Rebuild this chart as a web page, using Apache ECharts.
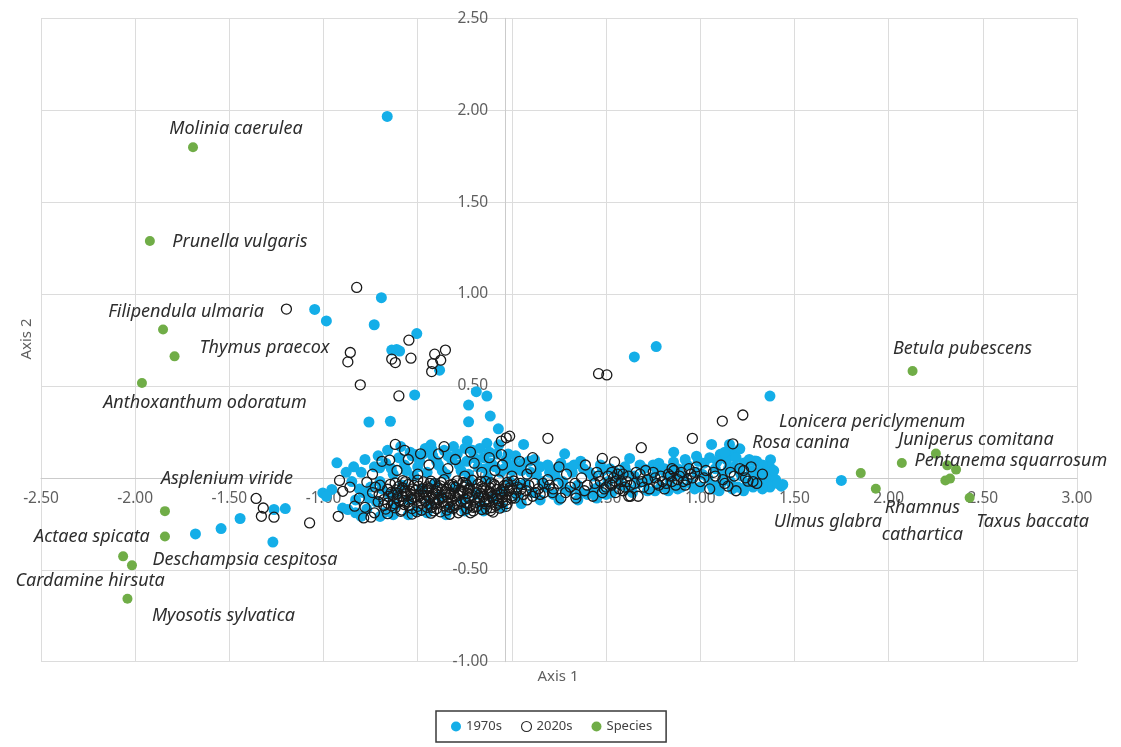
<!DOCTYPE html>
<html>
<head>
<meta charset="utf-8">
<script src="https://cdn.jsdelivr.net/npm/echarts@6/dist/echarts.min.js"></script>
<style>
  html, body { margin: 0; padding: 0; background: #ffffff; }
  #chart { width: 1121px; height: 747px; }
</style>
</head>
<body>
<div id="chart"></div>
<script>
// Axis ranges of the ordination plot
const xMin = -2.5, xMax = 3.0, xStep = 0.5;
const yMin = -1.0, yMax = 2.5, yStep = 0.5;
const seriesNames = ['1970s', '2020s', 'Species'];
const axisTitles = ['Axis 1', 'Axis 2'];

// Site scores, 1970s survey [axis 1, axis 2]
const sites1970s = [
  // sites lying above the main band
  [-0.662,1.966],[-1.047,0.916],[-0.985,0.854],[-0.693,0.980],[-0.731,0.833],[-0.505,0.785],
  [-0.638,0.695],[-0.612,0.699],[-0.596,0.690],[-0.384,0.586],[-0.516,0.451],[-0.759,0.304],
  [-0.645,0.308],[-0.189,0.469],[-0.133,0.445],[-0.230,0.396],[-0.230,0.305],[-0.115,0.336],
  [-0.072,0.267],[-0.133,0.188],[-0.237,0.200],[-0.237,0.164],[-0.425,0.155],[-0.929,0.082],
  [0.650,0.658],[0.766,0.714],[1.370,0.445],[0.062,0.182],[0.280,0.131],[0.365,0.091],
  [0.306,0.055],[0.625,0.106],[0.858,0.086],[1.060,0.182],[1.106,0.128],[1.155,0.182],
  [1.371,0.055],[-0.702,0.055],[-0.516,0.127],[0.980,0.118],[1.210,0.158],[1.290,0.092],
  [0.780,0.080],[0.880,0.050],[0.859,0.140],[1.164,0.146],[1.231,0.081],[1.373,0.099],
  // left tail
  [-1.680,-0.305],[-1.544,-0.276],[-1.443,-0.221],[-1.269,-0.349],[-1.263,-0.172],[-1.203,-0.167],
  [-1.004,-0.082],[-0.956,-0.063],[-0.899,-0.164],[-0.871,-0.172],[-0.985,-0.100],[-0.830,-0.190],
  [-0.800,-0.210],
  // right tail
  [1.430,-0.045],[1.749,-0.014],[1.438,-0.036],[1.345,-0.014],
  // main band
  [-0.85,-0.02],[-0.83,-0.12],[-0.80,0.03],[-0.79,-0.08],[-0.77,-0.17],[-0.75,-0.05],[-0.73,0.06],
  [-0.72,-0.13],[-0.70,-0.02],[-0.68,-0.19],[-0.67,0.08],[-0.65,-0.09],[-0.63,0.02],[-0.62,-0.15],
  [-0.60,0.11],[-0.58,-0.04],[-0.57,0.07],[-0.55,-0.12],[-0.54,0.14],[-0.52,0.01],[-0.51,-0.18],
  [-0.49,0.09],[-0.48,-0.06],[-0.46,0.16],[-0.45,0.03],[-0.44,-0.14],[-0.42,0.12],[-0.41,-0.03],
  [-0.39,0.07],[-0.38,-0.10],[-0.36,0.15],[-0.35,0.02],[-0.33,-0.17],[-0.32,0.10],[-0.30,-0.05],
  [-0.29,0.13],[-0.27,0.04],[-0.26,-0.12],[-0.24,0.09],[-0.22,-0.02],[-0.21,0.15],[-0.19,-0.09],
  [-0.18,0.06],[-0.16,-0.15],[-0.15,0.11],[-0.13,0.00],[-0.11,0.08],[-0.10,-0.11],[-0.08,0.13],
  [-0.06,0.03],[-0.05,-0.07],[-0.03,0.10],[-0.01,-0.02],[0.01,0.07],[0.03,-0.10],[0.05,0.04],
  [0.07,-0.03],[0.09,0.09],[0.11,-0.08],[0.13,0.02],[0.15,0.06],[0.18,-0.05],[0.20,0.03],
  [0.22,-0.09],[0.24,0.05],[0.27,-0.02],[0.30,-0.07],[0.32,0.03],[0.35,-0.04],[0.38,0.05],
  [0.40,-0.09],[0.43,0.01],[0.46,-0.05],[0.48,0.04],[0.51,-0.02],[0.53,-0.08],[0.55,0.03],
  [0.58,-0.04],[0.60,0.06],[0.62,-0.06],[0.65,0.01],[0.67,-0.03],[0.70,0.05],[0.72,-0.07],
  [0.74,0.00],[0.77,0.04],[0.79,-0.05],[0.82,0.02],[0.84,-0.02],[0.86,0.06],[0.88,-0.06],
  [0.91,0.01],[0.93,0.07],[0.95,-0.03],[0.98,0.03],[1.00,-0.05],[1.02,0.08],[1.04,0.00],
  [1.06,-0.04],[1.08,0.05],[1.10,-0.07],[1.12,0.02],[1.14,0.10],[1.16,-0.02],[1.18,0.06],
  [1.20,-0.05],[1.22,0.01],[1.24,0.08],[1.25,-0.03],[1.27,0.04],[1.29,-0.01],[1.31,0.03],
  [1.32,-0.04],[1.34,0.01],[1.36,-0.02],[1.38,0.02],[1.40,-0.01],[1.35,0.06],[1.30,0.09],
  [-0.88,0.03],[-0.84,0.06],[-0.81,-0.06],[-0.78,0.10],[-0.76,-0.11],[-0.71,0.12],[-0.69,-0.06],
  [-0.66,0.15],[-0.64,0.05],[-0.61,-0.08],[-0.59,0.17],[-0.56,0.04],[-0.53,0.12],[-0.50,0.06],
  [-0.47,0.13],[-0.43,0.18],[-0.40,0.09],[-0.37,0.04],[-0.34,0.12],[-0.31,0.17],[-0.28,0.07],
  [-0.25,0.16],[-0.23,0.02],[-0.20,0.11],[-0.17,0.16],[-0.14,0.05],[-0.12,0.14],[-0.09,0.06],
  [-0.07,0.18],[-0.04,0.05],[-0.02,0.13],[0.00,0.04],[0.02,0.12],[0.04,-0.04],[0.06,0.08],
  [0.10,0.03],[0.12,0.10],[0.16,-0.02],[0.19,0.07],[0.23,0.01],[0.26,0.08],[0.28,-0.06],
  [0.33,0.07],[0.36,-0.08],[0.41,0.03],[0.44,-0.06],[0.47,0.07],[0.50,-0.09],[0.52,0.05],
  [0.57,0.00],[0.61,0.03],[0.64,-0.08],[0.68,0.07],[0.71,-0.02],[0.75,0.07],[0.76,-0.07],
  [0.81,0.05],[0.83,-0.07],[0.87,0.02],[0.90,-0.05],[0.92,0.10],[0.97,-0.06],[0.99,0.09],
  [1.01,0.02],[1.05,0.11],[1.07,-0.06],[1.09,0.09],[1.11,-0.03],[1.13,0.14],[1.15,0.05],
  [1.17,-0.06],[1.19,0.11],[1.21,0.03],[1.23,-0.07],[1.26,0.10],[1.28,-0.05],[1.33,0.07],
  [1.37,-0.05],[1.39,0.04],[1.41,-0.03],[1.33,-0.06],[1.28,0.01],
  [-0.70,-0.21],[-0.63,-0.20],[-0.55,-0.20],[-0.45,-0.19],[-0.35,-0.20],[-0.25,-0.18],
  [-0.15,-0.18],[-0.05,-0.16],[0.05,-0.14],[0.15,-0.12],[0.25,-0.12],[0.35,-0.12],[0.45,-0.11]
];

// Site scores, 2020s resurvey [axis 1, axis 2]
const sites2020s = [
  // sites lying away from the main band
  [-0.824,1.036],[-1.197,0.918],[-0.547,0.749],[-0.858,0.682],[-0.871,0.631],[-0.638,0.646],
  [-0.619,0.627],[-0.536,0.651],[-0.410,0.673],[-0.353,0.695],[-0.378,0.640],[-0.421,0.622],
  [-0.426,0.578],[-0.805,0.506],[-0.600,0.446],[-0.619,0.182],[-0.649,0.097],[-0.485,0.131],
  [-0.056,0.200],[-0.030,0.218],[-0.012,0.227],[-0.056,0.127],[-0.915,-0.014],[0.191,0.215],
  [-1.358,-0.112],[-1.320,-0.164],[-1.330,-0.209],[-1.263,-0.214],[-1.074,-0.245],[-0.922,-0.209],
  [-0.113,-0.178],[-0.748,-0.214],[-0.898,-0.073],[-0.787,-0.218],[-0.770,-0.023],[-0.835,-0.154],
  [1.117,0.309],[1.226,0.342],[0.958,0.215],[1.173,0.185],[1.147,-0.045],[1.253,-0.018],
  [0.480,0.106],[0.545,0.087],[0.687,0.164],[0.460,0.567],[0.504,0.560],
  // upper part of the band
  [-0.74,0.02],[-0.69,0.09],[-0.61,0.04],[-0.55,0.10],[-0.50,0.02],[-0.44,0.07],[-0.39,0.13],
  [-0.34,0.05],[-0.30,0.10],[-0.25,0.01],[-0.20,0.08],[-0.16,0.03],[-0.12,0.11],[-0.09,0.04],
  [-0.05,0.07],[0.00,0.01],[0.04,0.09],[0.08,0.02],[-0.57,0.15],[-0.36,0.17],[-0.22,0.14],[0.11,0.11],
  // western edge of the band
  [-0.86,-0.05],[-0.81,-0.11],[-0.78,-0.16],[-0.74,-0.08],[-0.71,-0.13],[-0.70,-0.04],[-0.73,-0.19],[-0.67,-0.17],
  // dense core
  [-0.62,-0.028],[-0.55,-0.036],[-0.47,-0.022],[-0.41,-0.031],[-0.33,-0.040],[-0.26,-0.025],
  [-0.18,-0.034],[-0.11,-0.027],[-0.04,-0.041],[-0.66,-0.062],[-0.58,-0.055],[-0.51,-0.068],
  [-0.44,-0.058],[-0.37,-0.064],[-0.30,-0.052],[-0.23,-0.067],[-0.15,-0.057],[-0.08,-0.063],
  [-0.01,-0.054],[-0.63,-0.094],[-0.56,-0.086],[-0.49,-0.097],[-0.42,-0.089],[-0.35,-0.092],
  [-0.28,-0.084],[-0.21,-0.095],[-0.13,-0.088],[-0.06,-0.091],[0.02,-0.083],[-0.68,-0.118],
  [-0.60,-0.124],[-0.53,-0.115],[-0.46,-0.127],[-0.39,-0.119],[-0.32,-0.122],[-0.25,-0.114],
  [-0.17,-0.126],[-0.10,-0.117],[-0.03,-0.121],[-0.64,-0.152],[-0.57,-0.146],[-0.50,-0.155],
  [-0.43,-0.148],[-0.36,-0.153],[-0.29,-0.145],[-0.22,-0.149],[-0.14,-0.142],[-0.07,-0.137],
  [-0.59,-0.182],[-0.48,-0.176],[-0.38,-0.185],[-0.27,-0.178],[-0.16,-0.172],
  [-0.52,-0.105],[-0.45,-0.075],[-0.40,-0.140],[-0.34,-0.105],[-0.27,-0.070],[-0.20,-0.120],
  [-0.12,-0.075],[-0.05,-0.105],[-0.57,-0.070],[-0.31,-0.165],
  [-0.60,-0.046],[-0.52,-0.041],[-0.45,-0.049],[-0.38,-0.043],[-0.31,-0.047],[-0.24,-0.040],
  [-0.16,-0.048],[-0.09,-0.044],[-0.02,-0.038],[-0.64,-0.078],[-0.54,-0.072],[-0.47,-0.080],
  [-0.40,-0.074],[-0.33,-0.079],[-0.26,-0.071],[-0.19,-0.077],[-0.11,-0.083],[-0.04,-0.076],
  [-0.61,-0.108],[-0.58,-0.101],[-0.50,-0.110],[-0.43,-0.103],[-0.37,-0.111],[-0.30,-0.104],
  [-0.23,-0.109],[-0.15,-0.102],[-0.08,-0.112],[0.00,-0.098],[-0.66,-0.137],[-0.55,-0.131],
  [-0.48,-0.139],[-0.41,-0.133],[-0.34,-0.138],[-0.27,-0.130],[-0.19,-0.136],[-0.12,-0.129],[-0.05,-0.134],
  [-0.58,-0.015],[-0.50,-0.012],[-0.43,-0.018],[-0.36,-0.010],[-0.29,-0.016],[-0.21,-0.013],
  [-0.14,-0.019],[-0.07,-0.011],[0.01,-0.017],[-0.62,-0.163],[-0.53,-0.167],[-0.45,-0.161],
  [-0.40,-0.168],[-0.33,-0.160],[-0.24,-0.166],[-0.19,-0.158],[-0.11,-0.162],[-0.03,-0.155],
  [-0.66,-0.195],[-0.53,-0.197],[-0.43,-0.192],[-0.33,-0.198],[-0.22,-0.190],[-0.10,-0.186],
  [-0.615,-0.065],[-0.535,-0.090],[-0.475,-0.060],[-0.415,-0.115],[-0.355,-0.075],[-0.295,-0.125],
  [-0.235,-0.085],[-0.175,-0.105],[-0.115,-0.055],[-0.055,-0.070],[-0.655,-0.100],[-0.575,-0.125],
  [-0.455,-0.095],[-0.395,-0.055],[-0.325,-0.090],[-0.255,-0.050],[-0.185,-0.060],[-0.135,-0.115],
  [-0.075,-0.125],[-0.015,-0.070],[-0.705,-0.090],[-0.725,-0.050],[-0.680,-0.150],
  [-0.645,-0.035],[-0.565,-0.020],[-0.495,-0.045],[-0.435,-0.030],[-0.375,-0.025],[-0.315,-0.035],
  [-0.245,-0.030],[-0.165,-0.020],[-0.095,-0.035],[-0.025,-0.025],[-0.625,-0.140],[-0.545,-0.150],
  [-0.485,-0.125],[-0.425,-0.160],[-0.365,-0.130],[-0.305,-0.150],[-0.245,-0.135],[-0.205,-0.160],
  [-0.145,-0.130],[-0.085,-0.150],[-0.025,-0.140],[-0.605,-0.085],[-0.525,-0.060],[-0.465,-0.110],
  [-0.405,-0.085],[-0.345,-0.060],[-0.285,-0.095],[-0.225,-0.055],[-0.165,-0.085],[-0.105,-0.100],
  [-0.045,-0.060],[0.015,-0.110],[-0.585,-0.175],[-0.505,-0.185],[-0.415,-0.180],[-0.345,-0.175],
  [-0.285,-0.190],[-0.205,-0.180],[-0.135,-0.170],[-0.065,-0.165],
  [0.03,-0.05],[0.06,-0.09],[0.09,-0.04],[0.11,-0.10],[0.14,-0.06],[0.17,-0.08],[0.20,-0.04],
  [0.045,-0.030],[0.075,-0.070],[0.125,-0.080],[0.165,-0.030],[0.215,-0.080],[0.245,-0.030],
  [0.285,-0.080],[0.335,-0.030],[0.385,-0.070],
  // eastern part of the band
  [0.05,-0.06],[0.08,-0.12],[0.12,-0.03],[0.15,-0.09],[0.19,-0.01],[0.22,-0.06],[0.26,-0.11],
  [0.29,0.02],[0.31,-0.05],[0.34,-0.09],[0.37,0.00],[0.40,-0.04],[0.43,-0.10],[0.45,0.03],
  [0.47,-0.02],[0.49,-0.06],[0.51,0.01],[0.53,-0.04],[0.55,-0.08],[0.56,0.02],[0.58,-0.02],
  [0.60,-0.05],[0.62,0.01],[0.63,-0.10],[0.65,-0.03],[0.68,0.02],[0.70,-0.05],[0.72,-0.01],
  [0.75,0.03],[0.77,-0.03],[0.79,0.01],[0.81,-0.06],[0.83,0.02],[0.85,-0.02],[0.86,0.04],
  [0.88,-0.01],[0.90,0.03],[0.92,-0.04],[0.94,0.05],[0.96,0.00],[0.98,0.06],[1.00,-0.02],
  [1.03,0.04],[1.05,-0.06],[1.08,0.01],[1.11,0.07],[1.13,-0.03],[1.16,0.03],[1.19,-0.07],
  [1.21,0.05],[1.24,0.00],[1.27,0.06],[1.30,-0.03],[1.33,0.02],[0.00,-0.11],[0.10,0.05],
  [0.25,0.06],[0.39,0.07],[0.62,-0.10],[0.67,-0.10],[0.34,-0.11],
  [0.52,-0.03],[0.57,-0.06],[0.54,0.00],[0.59,0.02],[0.61,-0.02],[0.80,-0.02],[0.84,0.01],
  [0.87,-0.04],[0.91,-0.02],[0.78,-0.04],[0.95,0.02],
  [0.44,-0.03],[0.46,0.01],[0.48,-0.08],[0.50,-0.05],[0.53,0.03],[0.55,-0.02],[0.57,0.04],
  [0.59,-0.07],[0.63,-0.04],[0.66,0.03],[0.69,-0.02],[0.71,0.04],[0.73,-0.06],[0.76,0.00],
  [0.82,-0.03],[0.85,0.05],[0.89,0.01],[0.93,-0.01],[0.97,0.03],[1.02,0.00],[1.07,0.03],
  [1.12,-0.01],[1.18,0.01],[1.23,0.04],[1.28,-0.02]
];

// Species scores
const speciesNames = [
  'Molinia caerulea', 'Prunella vulgaris', 'Filipendula ulmaria', 'Thymus praecox',
  'Anthoxanthum odoratum', 'Asplenium viride', 'Actaea spicata', 'Deschampsia cespitosa',
  'Cardamine hirsuta', 'Myosotis sylvatica', 'Betula pubescens', 'Rosa canina',
  'Ulmus glabra', 'Pentanema squarrosum', 'Juniperus comitana', '',
  'Lonicera periclymenum', 'Rhamnus cathartica', '', 'Taxus baccata'
];
const speciesAxis1 = [
  -1.693, -1.922, -1.852, -1.791, -1.964, -1.842, -1.842, -2.017, -2.064, -2.041,
  2.127, 1.852, 1.932, 2.070, 2.251, 2.311, 2.358, 2.301, 2.326, 2.430
];
const speciesAxis2 = [
  1.799, 1.289, 0.807, 0.661, 0.516, -0.181, -0.319, -0.476, -0.427, -0.658,
  0.581, 0.026, -0.059, 0.081, 0.132, 0.068, 0.045, -0.014, -0.004, -0.108
];

// Where each species name sits relative to its point (pixel offset of the text centre)
const labelPlacement = {
  'Molinia caerulea': [43, -18],
  'Prunella vulgaris': [90, 1],
  'Filipendula ulmaria': [23, -18],
  'Thymus praecox': [90, -8],
  'Anthoxanthum odoratum': [63, 20],
  'Asplenium viride': [62, -32],
  'Actaea spicata': [-73, 0],
  'Deschampsia cespitosa': [113, -5],
  'Cardamine hirsuta': [-33, 25],
  'Myosotis sylvatica': [96, 17],
  'Betula pubescens': [50, -22],
  'Rosa canina': [-60, -30],
  'Ulmus glabra': [-48, 33],
  'Pentanema squarrosum': [109, -2],
  'Juniperus comitana': [40, -14],
  'Lonicera periclymenum': [-84, -48],
  'Rhamnus cathartica': [-23, 41],
  'Taxus baccata': [63, 24]
};
const wrappedNames = ['Rhamnus cathartica'];

const speciesData = speciesNames.map((name, i) => ({
  name: name,
  value: [speciesAxis1[i], speciesAxis2[i]],
  label: { show: !!labelPlacement[name] }
}));

const FONT = '"Noto Sans", "Open Sans", sans-serif';
const fmt = v => v.toFixed(2);

const chart = echarts.init(document.getElementById('chart'), null, { renderer: 'canvas' });

chart.setOption({
  animation: false,
  backgroundColor: '#ffffff',
  grid: { left: 41, right: 44, top: 18.3, bottom: 85.3, containLabel: false },
  xAxis: {
    type: 'value', min: xMin, max: xMax, interval: xStep,
    axisLine: { show: true, onZero: false, lineStyle: { color: '#cbcbcb', width: 1 } },
    axisTick: { show: false },
    splitLine: { show: true, lineStyle: { color: '#dcdcdc', width: 1 } },
    axisLabel: { formatter: fmt, color: '#5f5f5f', fontFamily: FONT, fontSize: 15.5, margin: 13, showMinLabel: true, showMaxLabel: true }
  },
  yAxis: {
    type: 'value', min: yMin, max: yMax, interval: yStep,
    axisLine: { show: true, onZero: false, lineStyle: { color: '#cbcbcb', width: 1 } },
    axisTick: { show: false },
    splitLine: { show: true, lineStyle: { color: '#dcdcdc', width: 1 } },
    axisLabel: { formatter: fmt, color: '#5f5f5f', fontFamily: FONT, fontSize: 15.5, margin: 17, showMinLabel: true, showMaxLabel: true }
  },
  legend: {
    left: 436, top: 711,
    padding: [9, 14, 9, 15],
    itemGap: 19, itemWidth: 10, itemHeight: 10,
    borderColor: '#3a3a3a', borderWidth: 1.5,
    textStyle: { color: '#404040', fontFamily: FONT, fontSize: 13 },
    selectedMode: false,
    data: [
      { name: seriesNames[0], icon: 'circle', itemStyle: { color: '#14aee8', borderWidth: 0 } },
      { name: seriesNames[1], icon: 'circle', itemStyle: { color: 'rgba(0,0,0,0)', borderColor: '#262626', borderWidth: 1.1 } },
      { name: seriesNames[2], icon: 'circle', itemStyle: { color: '#70ad47', borderWidth: 0 } }
    ]
  },
  graphic: [
    { type: 'text', x: 558, y: 677, silent: true,
      style: { text: axisTitles[0], fill: '#5f5f5f', font: '15px ' + FONT, align: 'center', verticalAlign: 'middle', textAlign: 'center', textVerticalAlign: 'middle' } },
    { type: 'text', x: 27, y: 339, rotation: Math.PI / 2, silent: true,
      style: { text: axisTitles[1], fill: '#5f5f5f', font: '15px ' + FONT, align: 'center', verticalAlign: 'middle', textAlign: 'center', textVerticalAlign: 'middle' } }
  ],
  series: [
    {
      name: seriesNames[0], type: 'scatter', data: sites1970s,
      symbol: 'circle', symbolSize: 11, silent: true, z: 2,
      itemStyle: { color: '#14aee8', opacity: 1 }
    },
    {
      name: seriesNames[1], type: 'scatter', data: sites2020s,
      symbol: 'circle', symbolSize: 10, silent: true, z: 3,
      itemStyle: { color: 'rgba(0,0,0,0)', borderColor: '#1a1a1a', borderWidth: 1.3, opacity: 1 }
    },
    {
      name: seriesNames[2], type: 'scatter', data: speciesData,
      symbol: 'circle', symbolSize: 10, silent: true, z: 4,
      itemStyle: { color: '#70ad47', opacity: 1 },
      label: {
        show: false, position: 'inside',
        color: '#2e2e2e', fontFamily: FONT, fontStyle: 'italic', fontSize: 18, lineHeight: 27,
        align: 'center', verticalAlign: 'middle',
        formatter: p => wrappedNames.includes(p.name) ? p.name.replace(' ', '\n') : p.name
      },
      // shift each name to its own spot beside the point
      labelLayout: params => {
        const off = labelPlacement[speciesNames[params.dataIndex]] || [0, 0];
        return { dx: off[0], dy: off[1], hideOverlap: false };
      }
    }
  ]
});

// Put each axis line (with its labels) through the origin of the other axis
const zeroX = chart.convertToPixel({ xAxisIndex: 0 }, 0);
const leftX = chart.convertToPixel({ xAxisIndex: 0 }, xMin);
const zeroY = chart.convertToPixel({ yAxisIndex: 0 }, 0);
const bottomY = chart.convertToPixel({ yAxisIndex: 0 }, yMin);
chart.setOption({
  xAxis: { offset: zeroY - bottomY },
  yAxis: { offset: leftX - zeroX }
});
</script>
</body>
</html>
